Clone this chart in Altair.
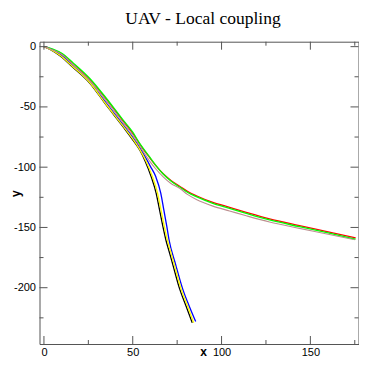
import altair as alt
import pandas as pd

title_text = "UAV - Local coupling"
x_title = "x"
y_title = "y"

x_major = [0, 50, 100, 150]
x_minor = [25, 75, 125, 175]
y_major = [0, -50, -100, -150, -200]
y_minor = [-25, -75, -125, -175, -225]

black_x = [0, 4, 9, 16, 26, 35, 44.5, 50, 54, 57, 60.4, 63.2, 65.1, 67, 68.6, 70.5, 72.6, 76.4, 80, 83.5]
black_y = [0, -2.8, -7.6, -16.8, -30.6, -48.4, -66.4, -77.3, -86, -95, -107.9, -121.7, -135.5, -149.4, -160, -170, -181, -201, -215.2, -229]

red_x = [0, 5, 10, 16.3, 25.7, 35.1, 44.5, 50, 54, 59.5, 63, 67, 71.5, 76.4, 81, 85.8, 95.1, 104.5, 113.9, 127, 143.9, 160, 175.5]
red_y = [0, -2.5, -6, -14, -27, -43.6, -61.6, -72, -81, -92, -98.7, -105.3, -111, -115.8, -120.2, -123.7, -129.2, -133.3, -137.4, -142.8, -148.4, -153.6, -158.6]

green_x = [0, 5, 10, 16.3, 25.7, 35.1, 44.5, 50, 54, 59.5, 63, 67, 71.5, 76.4, 81, 85.8, 95.1, 104.5, 113.9, 127, 143.9, 160, 175.4]
green_y = [0, -2, -5.5, -13.3, -26.2, -42.8, -60.8, -71, -80.5, -91.5, -98.5, -105.5, -111.5, -116.5, -121, -124.5, -130, -134.1, -138.3, -143.8, -149.4, -154.6, -159.8]

blue_x = [0, 5, 10, 16.3, 25.7, 35.1, 44.5, 50, 54, 57, 60, 63, 65.8, 67.5, 69.2, 70.4, 74.2, 78.1, 81.7, 85.4]
blue_y = [0, -3, -7.2, -15.8, -29.3, -46.8, -64.8, -75.3, -84, -91.5, -99.5, -108, -121.7, -135.5, -149.4, -160, -181, -201, -215, -228]

yellow_x = [0, 4, 9, 16, 26, 35, 44.5, 50, 54, 57.3, 61, 64, 65.9, 67.8, 69.4, 71.3, 73.4, 77.2, 80.8, 84.3]
yellow_y = [0, -2.6, -7.2, -16.2, -30.2, -47.8, -65.8, -76.5, -85.5, -94.5, -107.5, -121.7, -135.5, -149.4, -160, -170, -181, -201, -215, -229]

brown_x = [0, 5, 10, 16.3, 25.7, 35.1, 44.5, 50, 54, 57, 60, 63, 67, 71.5, 76.4, 81, 85.8, 95.1, 104.5, 113.9, 127, 143.9, 160, 175]
brown_y = [0, -2.8, -6.5, -14.8, -28, -45, -63, -73.5, -82.5, -89.5, -96, -101.5, -107.8, -113.5, -117.5, -122.8, -126.8, -132.3, -136.3, -140.3, -145.5, -150.8, -155.6, -160.2]

series = [
    ("black", black_x, black_y, "#000000", 1.3),
    ("red", red_x, red_y, "#ff0000", 1.3),
    ("green", green_x, green_y, "#00ff00", 1.3),
    ("blue", blue_x, blue_y, "#0000ff", 1.3),
    ("yellow", yellow_x, yellow_y, "#ffff00", 1.3),
    ("brown", brown_x, brown_y, "#bc8f8f", 1.1),
]

W, H = 319, 302.3
frame_col = "#555555"
xs = alt.Scale(domain=[-2.5, 177.1], nice=False, zero=False)
ys = alt.Scale(domain=[-246.7, 4.1], nice=False, zero=False)

x_axis = alt.Axis(values=x_major, ticks=False, tickSize=0, domain=False, grid=False,
                  labelExpr="'' + datum.value",
                  labelFont="Liberation Sans", labelFontSize=11, labelColor="black",
                  labelPadding=2, labelFlush=False, labelOverlap=False,
                  title=x_title, titleFont="Liberation Sans", titleFontSize=12,
                  titleFontWeight="bold", titleColor="black",
                  titleX=163.5, titleY=11, titleBaseline="alphabetic")
y_axis = alt.Axis(values=y_major, ticks=False, tickSize=0, domain=False, grid=False,
                  labelExpr="'' + datum.value",
                  labelFont="Liberation Sans", labelFontSize=11, labelColor="black",
                  labelPadding=4, labelFlush=False, labelOverlap=False,
                  title=y_title, titleFont="Liberation Sans", titleFontSize=12,
                  titleFontWeight="bold", titleColor="black", titleAngle=-90,
                  titleX=-20.5, titleY=151.5, titleBaseline="alphabetic", titleAlign="center")

layers = []

def xtick(vals, y0, y1):
    return alt.Chart(pd.DataFrame({"v": vals})).mark_rule(color=frame_col, strokeWidth=1).encode(
        x=alt.X("v:Q", scale=xs, axis=x_axis), y=alt.value(y0), y2=alt.value(y1))

def ytick(vals, x0, x1):
    return alt.Chart(pd.DataFrame({"v": vals})).mark_rule(color=frame_col, strokeWidth=1).encode(
        y=alt.Y("v:Q", scale=ys, axis=y_axis), x=alt.value(x0), x2=alt.value(x1))

for k, (name, xv, yv, col, sw) in enumerate(series):
    df = pd.DataFrame({"x": xv, "y": yv, "i": list(range(len(xv)))})
    layers.append(
        alt.Chart(df).mark_line(color=col, strokeWidth=sw, interpolate="monotone").encode(
            x=alt.X("x:Q", scale=xs, axis=x_axis),
            y=alt.Y("y:Q", scale=ys, axis=y_axis),
            order="i:Q",
        )
    )

layers += [
    xtick(x_major, H, H - 8), xtick(x_minor, H, H - 4),
    xtick(x_major, 0, 8), xtick(x_minor, 0, 4),
    ytick(y_major, 0, 8), ytick(y_minor, 0, 4),
    ytick(y_major, W, W - 8), ytick(y_minor, W, W - 4),
]

chart = alt.layer(*layers).properties(
    width=W, height=H,
    title=alt.TitleParams(text=title_text, font="Liberation Serif", fontSize=17.5,
                          fontWeight="normal", color="black", anchor="middle",
                          frame="group", offset=13, dx=4),
    padding={"left": 31.5, "top": 33.7, "right": 0.5, "bottom": 13},
    autosize=alt.AutoSizeParams(type="none"),
).configure_view(stroke=frame_col, strokeWidth=1)

chart.save("out.html", embed_options={"renderer": "svg", "actions": False})
